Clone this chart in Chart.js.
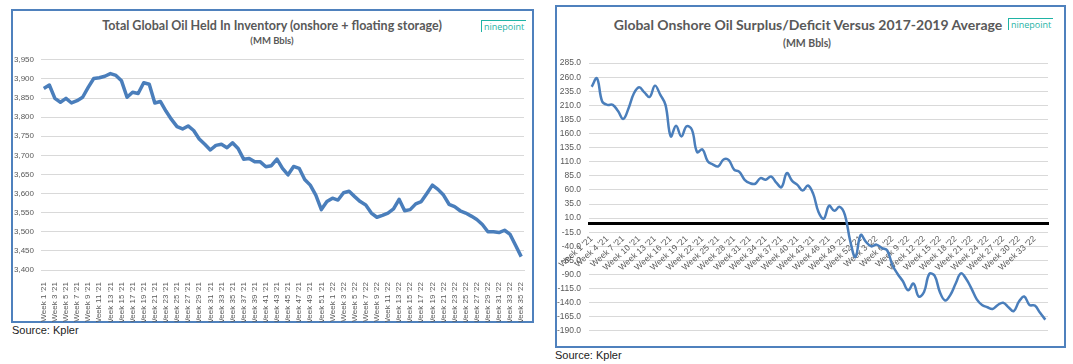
<!DOCTYPE html>
<html>
<head>
<meta charset="utf-8">
<script src="https://cdn.jsdelivr.net/npm/chart.js@4.4.0/dist/chart.umd.min.js"></script>
<style>
  body { margin: 0; background: #fff; width: 1073px; height: 364px; position: relative; overflow: hidden; }
  .frame { position: absolute; border: 2px solid #4F81BD; box-sizing: border-box; }
  .title { position: absolute; transform: translateX(-50%); white-space: nowrap; font-family: Lato, "Open Sans", sans-serif; font-weight: bold; color: #595959; }
  .logo { position: absolute; font-family: "Open Sans", sans-serif; font-size: 9px; color: #1fb3a5; border-top: 1.5px solid #1fb3a5; border-left: 1.5px solid #1fb3a5; padding: 0 2px 0 2px; line-height: 11px; }
  .source { position: absolute; font-family: "Liberation Sans", Arial, sans-serif; font-size: 11px; color: #222; }
  canvas { position: absolute; }
</style>
</head>
<body>
<div class="frame" style="left:11px;top:9px;width:523px;height:314px;"></div>
<div class="title" style="left:272px;top:18px;font-size:12.5px;">Total Global Oil Held In Inventory (onshore + floating storage)</div>
<div class="title" style="left:272px;top:35px;font-size:9.5px;">(MM Bbls)</div>
<div class="logo" style="left:481px;top:20px;">ninepoint</div>
<div class="source" style="left:12px;top:324px;">Source: Kpler</div>
<canvas id="left" width="518" height="274" style="left:12px;top:48px;"></canvas>

<div class="frame" style="left:555px;top:5px;width:511px;height:343px;"></div>
<div class="title" style="left:808px;top:16px;font-size:14px;">Global Onshore Oil Surplus/Deficit Versus 2017-2019 Average</div>
<div class="title" style="left:807px;top:37px;font-size:10.5px;">(MM Bbls)</div>
<div class="logo" style="left:1008px;top:18px;">ninepoint</div>
<div class="source" style="left:555px;top:349px;">Source: Kpler</div>
<canvas id="right" width="508" height="294" style="left:556px;top:50px;"></canvas>

<script>
// week categories
const weeks21 = ["Week 1 '21","Week 2 '21","Week 3 '21","Week 4 '21","Week 5 '21","Week 6 '21","Week 7 '21","Week 8 '21","Week 9 '21","Week 10 '21",
  "Week 11 '21","Week 12 '21","Week 13 '21","Week 14 '21","Week 15 '21","Week 16 '21","Week 17 '21","Week 18 '21","Week 19 '21","Week 20 '21",
  "Week 21 '21","Week 22 '21","Week 23 '21","Week 24 '21","Week 25 '21","Week 26 '21","Week 27 '21","Week 28 '21","Week 29 '21","Week 30 '21",
  "Week 31 '21","Week 32 '21","Week 33 '21","Week 34 '21","Week 35 '21","Week 36 '21","Week 37 '21","Week 38 '21","Week 39 '21","Week 40 '21",
  "Week 41 '21","Week 42 '21","Week 43 '21","Week 44 '21","Week 45 '21","Week 46 '21","Week 47 '21","Week 48 '21","Week 49 '21","Week 50 '21",
  "Week 51 '21","Week 52 '21"];
const weeks22 = ["Week 1 '22","Week 2 '22","Week 3 '22","Week 4 '22","Week 5 '22","Week 6 '22","Week 7 '22","Week 8 '22","Week 9 '22","Week 10 '22",
  "Week 11 '22","Week 12 '22","Week 13 '22","Week 14 '22","Week 15 '22","Week 16 '22","Week 17 '22","Week 18 '22","Week 19 '22","Week 20 '22",
  "Week 21 '22","Week 22 '22","Week 23 '22","Week 24 '22","Week 25 '22","Week 26 '22","Week 27 '22","Week 28 '22","Week 29 '22","Week 30 '22",
  "Week 31 '22","Week 32 '22","Week 33 '22","Week 34 '22","Week 35 '22"];

// total inventory (onshore + floating), MM bbls
const inventory21 = [3875, 3884, 3849, 3839, 3849, 3837, 3843, 3852, 3878, 3901, 3903, 3907, 3914, 3909, 3895, 3852, 3865, 3862, 3890, 3886,
  3837, 3841, 3816, 3794, 3775, 3769, 3777, 3765, 3743, 3729, 3714, 3726, 3729, 3720, 3733, 3718, 3690, 3692, 3683, 3683,
  3670, 3673, 3690, 3666, 3649, 3671, 3666, 3637, 3622, 3596, 3558, 3579];
const inventory22 = [3588, 3583, 3602, 3606, 3592, 3579, 3570, 3549, 3538, 3543, 3549, 3560, 3585, 3555, 3558, 3573, 3579, 3600, 3622, 3611,
  3596, 3572, 3566, 3555, 3549, 3541, 3532, 3519, 3500, 3500, 3498, 3504, 3493, 3464, 3435];

// onshore surplus/deficit vs 2017-2019 average, MM bbls
const surplus21 = [243, 258, 217, 211, 211, 200, 186, 205, 231, 242, 233, 225, 245, 229, 211, 155, 174, 155, 173, 167,
  127, 132, 111, 105, 102, 114, 113, 96, 92, 78, 72, 71, 81, 78, 84, 73, 65, 90, 76, 69,
  59, 68, 53, 21, 9, 32, 23, 30, 16, -30, -59, -20];
const surplus22 = [-32, -40, -37, -43, -47, -73, -89, -102, -118, -106, -129, -121, -89, -92, -121, -136, -126, -106, -88, -98,
  -115, -134, -144, -148, -151, -144, -140, -148, -155, -138, -129, -144, -145, -158, -170];

const leftTicks = { min: 3400, max: 3950, step: 50 };
const rightTicks = { min: -190, max: 285, step: 25 };

const labels = weeks21.concat(weeks22);
const lineBlue = '#4A7EBB';
const gridGray = '#D9D9D9';
const tickFont = { family: 'Liberation Sans, Arial, sans-serif', size: 8 };

// Left: total inventory
new Chart(document.getElementById('left'), {
  type: 'line',
  data: {
    labels: labels,
    datasets: [{
      data: inventory21.concat(inventory22),
      borderColor: lineBlue,
      borderWidth: 3.5,
      pointRadius: 0,
      tension: 0,
      borderJoinStyle: 'round',
    }],
  },
  options: {
    responsive: false,
    animation: false,
    layout: { padding: { top: 7, right: 6, left: 0, bottom: 0 } },
    plugins: { legend: { display: false }, tooltip: { enabled: false } },
    scales: {
      x: {
        offset: true,
        grid: { display: false },
        border: { display: true, color: gridGray, width: 1 },
        afterFit: (s) => { s.height = 52; s.paddingLeft = 0; s.paddingRight = 0; },
        ticks: {
          autoSkip: false, minRotation: 90, maxRotation: 90, padding: 4,
          color: '#595959', font: tickFont,
          callback: (v, i) => (i % 2 === 0 ? labels[i] : ''),
        },
      },
      y: {
        min: leftTicks.min, max: leftTicks.max,
        grid: { color: gridGray, drawTicks: false },
        border: { display: false },
        afterFit: (s) => { s.width = 29; },
        ticks: {
          stepSize: leftTicks.step, padding: 7, color: '#595959', font: tickFont,
          callback: (v) => v.toLocaleString('en-US'),
        },
      },
    },
  },
});

// Right: surplus / deficit, x axis sits on zero
new Chart(document.getElementById('right'), {
  type: 'line',
  data: {
    labels: labels,
    datasets: [{
      data: surplus21.concat(surplus22),
      borderColor: lineBlue,
      borderWidth: 2.5,
      pointRadius: 0,
      tension: 0.4,
    }],
  },
  options: {
    responsive: false,
    animation: false,
    layout: { padding: { top: 8, right: 16, left: 0, bottom: 12 } },
    plugins: { legend: { display: false }, tooltip: { enabled: false } },
    scales: {
      x: {
        position: { y: 0 },
        offset: true,
        grid: { display: false },
        border: { display: true, color: '#000', width: 3 },
        afterFit: (s) => { s.paddingLeft = 0; s.paddingRight = 0; },
        ticks: {
          autoSkip: false, minRotation: 42, maxRotation: 42, padding: 2,
          color: '#595959', font: { family: 'Liberation Sans, Arial, sans-serif', size: 8.5 },
          callback: (v, i) => (i % 3 === 0 ? labels[i] : ''),
        },
      },
      y: {
        min: rightTicks.min, max: rightTicks.max,
        grid: { color: gridGray, drawTicks: false },
        border: { display: false },
        afterFit: (s) => { s.width = 33; },
        ticks: {
          stepSize: rightTicks.step, padding: 8, color: '#595959',
          font: { family: 'Liberation Sans, Arial, sans-serif', size: 8.5 },
          callback: (v) => v.toFixed(1),
        },
      },
    },
  },
});
</script>
</body>
</html>
